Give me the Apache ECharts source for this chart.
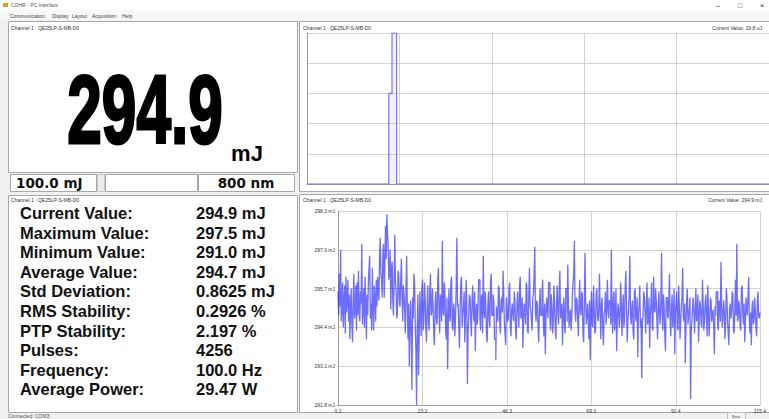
<!DOCTYPE html>
<html>
<head>
<meta charset="utf-8">
<script src="https://cdn.jsdelivr.net/npm/echarts@6/dist/echarts.min.js"></script>
<style>
  html, body { margin: 0; padding: 0; background: #f0f0f0; }
  #main { width: 769px; height: 419px; }
</style>
</head>
<body>
<div id="main"></div>
<script>
// ---------- readout data ----------
const appTitle = 'COHR - PC Interface';
const menuItems = ['Communication', 'Display', 'Layout', 'Acquisition', 'Help'];
const channelName = 'Channel 1 : QE25LP-S-MB-D0';
const currentValue = 294.9;
const energyUnit = 'mJ';
const rangeLabel = '100.0 mJ';
const wavelengthLabel = '800 nm';
const histCurrentLabel = 'Current Value: 19.8 uJ';
const statusText = 'Connected: COM3';

const statLabels = ['Current Value:', 'Maximum Value:', 'Minimum Value:', 'Average Value:', 'Std Deviation:',
  'RMS Stability:', 'PTP Stability:', 'Pulses:', 'Frequency:', 'Average Power:'];
const statValues = ['294.9 mJ', '297.5 mJ', '291.0 mJ', '294.7 mJ', '0.8625 mJ',
  '0.2926 %', '2.197 %', '4256', '100.0 Hz', '29.47 W'];

// histogram (upper plot): bin edges and counts
const histEdges  = [0, 17.7, 18.4, 19.4, 100];
const histCounts = [0, 3, 5, 0, 0];

// pulse energy trace (lower plot), mJ
const traceValues = [
  295.6, 294.8, 296.2, 295.1, 297.0, 294.6, 295.0, 295.9, 294.4, 295.3, 295.8, 294.2, 296.1, 294.9, 295.3, 296.0, 294.6, 295.5, 294.0, 295.1,
  295.7, 294.5, 293.9, 295.4, 296.2, 294.7, 295.1, 295.8, 294.3, 295.9, 294.8, 296.3, 295.0, 294.6, 295.6, 295.2, 297.2, 294.5, 295.0, 295.7,
  294.4, 296.1, 295.2, 294.0, 295.5, 294.8, 295.9, 296.4, 296.8, 294.7, 295.2, 294.3, 296.4, 295.0, 294.3, 295.8, 295.4, 294.6, 296.0, 295.1,
  296.1, 295.6, 295.3, 296.8, 297.4, 296.2, 296.0, 295.4, 296.9, 297.2, 295.4, 296.5, 297.8, 296.7, 298.2, 297.5, 297.1, 296.0, 296.3, 297.0,
  295.0, 296.4, 296.6, 295.3, 294.8, 296.0, 297.5, 295.9, 295.6, 294.7, 294.9, 296.3, 296.2, 295.2, 295.1, 296.0, 296.7, 295.4, 294.6, 295.8,
  295.5, 294.9, 294.2, 295.7, 296.8, 295.0, 294.0, 295.2, 293.1, 294.6, 295.3, 294.1, 292.3, 295.4, 294.7, 296.2, 295.9, 294.5, 293.6, 291.8,
  294.4, 295.5, 292.8, 294.2, 295.6, 294.9, 294.1, 295.7, 296.0, 294.3, 294.6, 295.9, 295.4, 294.4, 293.9, 295.1, 295.8, 294.6, 294.3, 295.6,
  296.2, 294.8, 294.9, 295.7, 295.1, 294.2, 293.8, 295.0, 295.6, 294.7, 294.5, 296.0, 296.4, 294.9, 294.2, 295.5, 295.3, 294.6, 297.3, 295.0,
  294.8, 295.9, 295.5, 294.3, 294.0, 295.4, 293.0, 294.5, 295.7, 294.8, 294.6, 295.9, 296.1, 294.4, 294.3, 295.2, 295.0, 294.1, 294.7, 295.8,
  297.4, 295.1, 295.2, 294.4, 293.7, 295.0, 295.9, 296.1, 294.4, 294.9, 295.1, 295.6, 293.9, 294.7, 296.0, 295.3, 292.5, 294.2, 294.8, 295.5,
  295.4, 294.6, 294.1, 295.3, 295.8, 294.9, 294.6, 295.6, 293.6, 294.8, 295.2, 294.5, 294.9, 296.0, 296.0, 294.7, 294.3, 295.4, 295.5, 294.2,
  296.8, 295.0, 294.7, 295.6, 295.0, 294.1, 293.9, 295.2, 295.6, 294.6, 294.4, 295.9, 296.2, 294.8, 294.8, 295.5, 295.3, 294.0, 294.0, 293.3,
  295.1, 294.7, 294.6, 295.8, 295.7, 294.5, 294.2, 295.3, 295.4, 294.9, 296.3, 295.5, 294.5, 294.2, 293.8, 295.4, 295.0, 294.6, 294.7, 295.7,
  295.9, 294.4, 294.1, 295.0, 295.2, 294.8, 294.6, 295.6, 295.3, 294.3, 294.0, 295.1, 295.6, 294.9, 294.4, 295.8, 296.1, 294.7, 294.8, 295.4,
  293.7, 294.6, 295.2, 295.0, 294.5, 295.9, 295.8, 294.3, 294.2, 295.5, 296.4, 295.1, 295.0, 294.6, 294.3, 295.4, 295.5, 296.2, 297.1, 294.9,
  294.6, 295.3, 295.2, 294.4, 293.9, 295.0, 295.7, 294.8, 294.8, 295.6, 296.0, 294.5, 294.1, 295.2, 293.5, 294.8, 295.4, 295.0, 294.7, 295.9,
  295.9, 294.6, 294.3, 295.5, 295.1, 294.2, 294.6, 295.8, 295.2, 294.4, 294.0, 295.3, 295.8, 294.9, 294.5, 295.6, 296.3, 294.7, 294.9, 295.2,
  293.8, 294.8, 295.4, 294.5, 294.2, 295.7, 295.7, 294.6, 296.5, 295.1, 294.4, 294.8, 295.0, 294.3, 294.7, 295.5, 295.9, 296.2, 297.3, 295.0,
  294.6, 295.4, 295.3, 294.7, 294.1, 295.2, 296.0, 294.9, 294.8, 295.6, 295.5, 294.2, 293.9, 295.1, 296.9, 295.3, 294.5, 294.8, 295.2, 294.6,
  294.0, 295.3, 293.3, 294.9, 295.6, 294.5, 294.4, 295.8, 295.1, 294.2, 294.3, 295.5, 295.7, 294.8, 294.6, 295.0, 296.2, 294.9, 294.0, 295.2,
  295.4, 294.3, 293.8, 294.8, 295.0, 295.6, 294.5, 294.9, 296.0, 295.1, 294.7, 295.3, 295.3, 294.5, 297.0, 294.8, 294.2, 295.4, 295.6, 294.3,
  294.8, 295.7, 293.6, 294.6, 295.2, 295.0, 294.4, 294.7, 295.9, 295.3, 294.1, 294.9, 295.5, 294.4, 294.7, 295.8, 296.3, 295.0, 293.9, 294.6,
  295.0, 295.5, 296.8, 294.8, 294.5, 295.1, 295.3, 294.2, 294.0, 295.6, 295.7, 294.7, 294.6, 295.4, 293.4, 294.9, 295.1, 295.8, 294.4, 294.7,
  292.7, 294.6, 294.8, 295.6, 295.4, 294.9, 294.2, 295.2, 295.9, 294.5, 294.6, 295.4, 293.7, 294.8, 295.2, 295.9, 294.4, 294.3, 296.1, 295.0,
  294.9, 295.7, 295.3, 294.6, 294.0, 295.1, 295.6, 294.8, 294.5, 295.3, 296.9, 294.9, 294.3, 295.5, 295.0, 294.1, 293.6, 295.4, 295.4, 294.8,
  294.7, 295.2, 296.2, 294.6, 294.1, 295.0, 295.5, 294.4, 294.8, 295.7, 293.5, 294.9, 295.2, 295.6, 294.4, 294.3, 295.8, 295.1, 294.0, 294.6,
  295.1, 295.4, 296.4, 294.7, 294.6, 295.2, 293.2, 294.5, 295.3, 295.7, 294.5, 294.8, 295.0, 295.4, 292.0, 294.3, 294.6, 295.1, 295.4, 294.9,
  294.2, 295.0, 295.7, 294.6, 294.8, 295.5, 293.9, 294.7, 295.3, 295.1, 294.5, 294.4, 296.0, 295.2, 294.3, 294.6, 295.2, 295.5, 294.7, 294.1,
  295.8, 295.0, 294.1, 294.6, 295.4, 295.3, 294.6, 294.8, 295.0, 294.4, 293.5, 295.1, 294.8, 295.6, 295.6, 294.5, 294.3, 295.3, 295.1, 294.6,
  296.6, 295.2, 294.4, 294.7, 295.3, 295.0, 294.0, 294.5, 295.7, 295.4, 294.6, 294.2, 293.8, 295.0, 295.2, 294.7, 294.9, 295.6, 295.5, 294.3,
  294.2, 295.0, 296.0, 294.8, 297.2, 294.6, 294.7, 295.3, 295.1, 294.4, 294.3, 295.7, 295.8, 294.9, 294.5, 295.2, 293.9, 294.6, 295.4, 295.0,
  294.8, 295.5, 296.1, 294.6, 294.2, 294.9, 293.8, 295.1, 295.3, 294.5, 294.6, 295.4, 295.0, 294.4, 294.1, 295.2, 295.6, 294.8, 294.7, 294.9
];
const traceStart = 0.1;   // s
const traceEnd = 115.4;   // s

const traceTicksX = [0.1, 23.2, 46.3, 69.3, 92.4, 115.4];
const traceTicksY = [291.8, 293.1, 294.4, 295.7, 297.0, 298.3];

// ---------- derived series data ----------
const histData = histEdges.map((e, i) => [e, histCounts[i]]);
const dt = (traceEnd - traceStart) / (traceValues.length - 1);
const traceData = traceValues.map((v, i) => [traceStart + i * dt, v]);

// ---------- window chrome ----------
const FONT = '"Liberation Sans", Arial, sans-serif';
function label(x, y, text, size, opts) {
  opts = opts || {};
  const align = opts.align || 'left';
  return {
    type: 'text', x: x, y: y, z: 20,
    scaleX: opts.scaleX || 1,
    style: {
      text: text,
      font: (opts.weight || 'normal') + ' ' + size + 'px ' + (opts.family || FONT),
      fill: opts.color || '#222',
      align: align, textAlign: align,
      verticalAlign: opts.valign || 'middle', textVerticalAlign: opts.valign || 'middle',
      stroke: opts.stroke || null, lineWidth: opts.lineWidth || 0
    }
  };
}
function box(x, y, w, h, fill, stroke) {
  return {
    type: 'rect', z: -10,
    shape: { x: x + 0.5, y: y + 0.5, width: w, height: h },
    style: { fill: fill, stroke: stroke || '#a8a8a8', lineWidth: 1 }
  };
}

const graphics = [];
// title bar and menu
graphics.push(box(-1, -1, 771, 11, '#ffffff', '#ffffff'));
graphics.push({ type: 'rect', z: -9, shape: { x: 3, y: 3, width: 5, height: 4 }, style: { fill: '#e0a020' } });
graphics.push(label(11, 5, appTitle, 5, { color: '#555' }));
graphics.push(label(718, 5, '\u2013', 7, { color: '#333', align: 'center' }));
graphics.push(label(740, 5, '\u25a1', 7, { color: '#333', align: 'center' }));
graphics.push(label(762, 5, '\u00d7', 8, { color: '#333', align: 'center' }));
graphics.push(box(-1, 10, 771, 9, '#f7f7f7', '#f7f7f7'));
const menuX = [10, 52, 72, 92, 122];
menuItems.forEach((m, i) => graphics.push(label(menuX[i], 15.5, m, 5, { color: '#444' })));

// panels
graphics.push(box(8, 21, 289, 151, '#ffffff'));
graphics.push(box(8, 195, 289, 217, '#ffffff'));
graphics.push(box(299, 21, 472, 170, '#ffffff'));
graphics.push(box(299, 194, 472, 218, '#ffffff'));

// panel titles
graphics.push(label(11, 28, channelName, 5, { color: '#333' }));
graphics.push(label(11, 200, channelName, 5, { color: '#333' }));
graphics.push(label(303, 28, channelName, 5, { color: '#333' }));
graphics.push(label(762, 28, histCurrentLabel, 5, { color: '#333', align: 'right' }));
graphics.push(label(303, 200, channelName, 5, { color: '#333' }));
graphics.push(label(762, 200, 'Current Value: ' + currentValue.toFixed(1) + ' ' + energyUnit, 5, { color: '#333', align: 'right' }));

// big readout
graphics.push(label(145, 109, currentValue.toFixed(1), 97,
  { weight: 'bold', color: '#000', align: 'center', scaleX: 0.64, stroke: '#000', lineWidth: 3 }));
graphics.push(label(247, 153, energyUnit, 22, { weight: 'bold', color: '#000', align: 'center' }));

// range / wavelength row
graphics.push(box(10, 174, 86, 17, '#ffffff'));
graphics.push(box(97, 174, 7, 17, '#ececec', '#c8c8c8'));
graphics.push(box(105, 174, 92, 17, '#ffffff'));
graphics.push(box(198, 174, 96, 17, '#ffffff'));
const DV = '"DejaVu Sans", Verdana, sans-serif';
graphics.push(label(16, 183, rangeLabel, 13.5, { weight: 'bold', family: DV, color: '#111' }));
graphics.push(label(246, 183, wavelengthLabel, 13.5, { weight: 'bold', family: DV, color: '#111', align: 'center' }));

// statistics
statLabels.forEach((s, i) => {
  const y = 213 + i * 19.6;
  graphics.push(label(20, y, s, 16.5, { weight: 'bold', color: '#111' }));
  graphics.push(label(196, y, statValues[i], 16.5, { weight: 'bold', color: '#111' }));
});

// status bar
graphics.push(label(8, 416, statusText, 5, { color: '#555' }));
graphics.push(box(727, 412, 18, 8, '#f4f4f4', '#c0c0c0'));
graphics.push(label(736, 416, 'Start', 4, { color: '#444', align: 'center' }));

// ---------- chart ----------
const chart = echarts.init(document.getElementById('main'), null, { renderer: 'svg' });
const gridLine = { show: true, lineStyle: { color: '#d2d2d2', width: 1 } };
const axisLine = { show: true, lineStyle: { color: '#9a9a9a', width: 1 } };

chart.setOption({
  animation: false,
  backgroundColor: '#f0f0f0',
  graphic: { elements: graphics },
  grid: [
    { left: 307, top: 33, right: 0, bottom: 235 },
    { left: 338, top: 211, right: 0, bottom: 14 }
  ],
  xAxis: [
    { gridIndex: 0, type: 'value', min: 0, max: 100, interval: 20,
      axisLine: axisLine, axisTick: { show: false }, axisLabel: { show: false }, splitLine: gridLine },
    { gridIndex: 1, type: 'value', min: traceStart, max: traceEnd,
      axisLine: axisLine,
      axisTick: { show: false, customValues: traceTicksX },
      axisLabel: { customValues: traceTicksX, formatter: v => v.toFixed(1), fontSize: 5, color: '#333', margin: 3 },
      splitLine: gridLine }
  ],
  yAxis: [
    { gridIndex: 0, type: 'value', min: 0, max: 5, interval: 1,
      axisLine: axisLine, axisTick: { show: false }, axisLabel: { show: false }, splitLine: gridLine },
    { gridIndex: 1, type: 'value', min: traceTicksY[0], max: traceTicksY[traceTicksY.length - 1],
      axisLine: axisLine,
      axisTick: { show: false, customValues: traceTicksY },
      axisLabel: { customValues: traceTicksY, formatter: v => v.toFixed(1) + ' ' + energyUnit, fontSize: 5, color: '#333', margin: 3 },
      splitLine: gridLine }
  ],
  series: [
    { type: 'line', xAxisIndex: 0, yAxisIndex: 0, data: histData, step: 'end',
      showSymbol: false, silent: true,
      lineStyle: { color: '#6a6aff', width: 1.1 },
      areaStyle: { color: 'rgba(90,90,255,0.12)' } },
    { type: 'line', xAxisIndex: 1, yAxisIndex: 1, data: traceData, step: 'end',
      showSymbol: false, silent: true,
      lineStyle: { color: 'rgba(20,20,255,0.62)', width: 1.3, join: 'bevel' } }
  ]
});
</script>
</body>
</html>
